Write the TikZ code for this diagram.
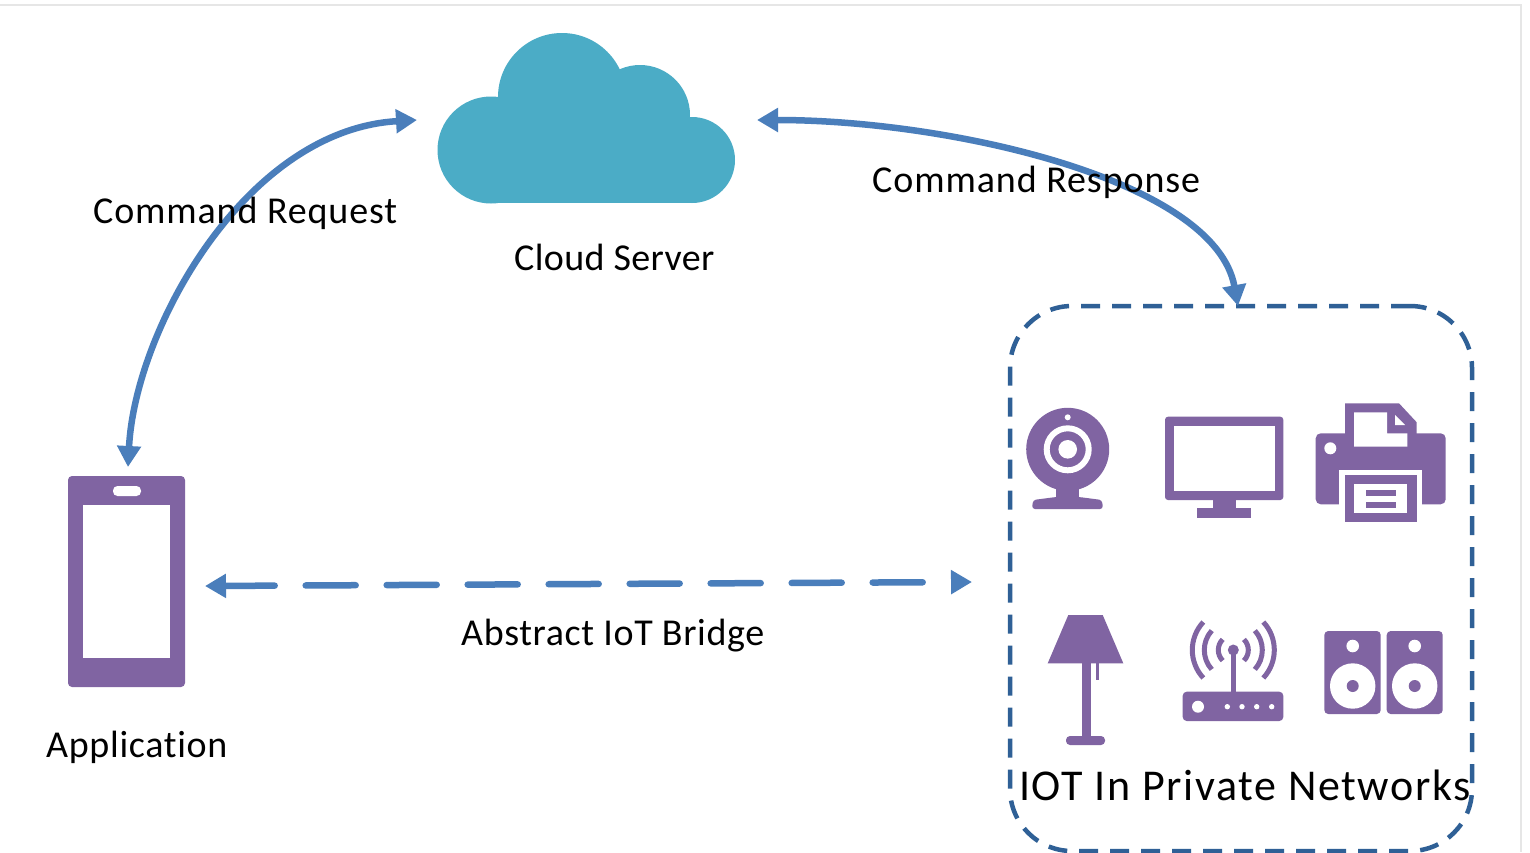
\documentclass[tikz,border=0pt]{standalone}
\usepackage{fontspec}
\setmainfont{Carlito}[Ligatures=NoCommon]
\usetikzlibrary{arrows.meta,calc}
\definecolor{iconpurple}{HTML}{8064A2}
\definecolor{cloudteal}{HTML}{4BACC6}
\definecolor{arrowblue}{HTML}{4A7EBB}
\definecolor{boxblue}{HTML}{2F6096}
\definecolor{edgegray}{HTML}{E6E6E6}
\tikzset{
  px/.style={x=1pt,y=-1pt},
  icon/.style={fill=iconpurple,draw=none},
  hole/.style={fill=white,draw=none},
  flowarrow/.style={draw=arrowblue,line width=6.5pt,{Triangle[length=21pt,width=23pt]}-{Triangle[length=21pt,width=23pt]}},
  dashflow/.style={flowarrow,line cap=round,dash pattern=on 50pt off 31pt},
  lbl/.style={font=\fontsize{38}{41}\selectfont,anchor=base west,inner sep=0pt,text=black},
  wave/.style={draw=iconpurple,line width=5pt,fill=none},
}
\newcommand{\spaced}[2]{\addfontfeature{LetterSpace=#1}#2}
\begin{document}
\begin{tikzpicture}[px]
\useasboundingbox (0,0) rectangle (1530,852);
\fill[white] (0,0) rectangle (1530,852);
\coordinate (frameA) at (0,5);
\coordinate (frameB) at (1521,5);
\coordinate (frameC) at (1521,852);
\draw[edgegray,line width=1.2pt] (frameA) -- (frameB) -- (frameC);

% cloud
\fill[cloudteal] (562,97) circle (64);
\fill[cloudteal] (640,115) circle (50);
\fill[cloudteal] (491,150) circle (53.5);
\fill[cloudteal] (692,160) circle (43);
\fill[cloudteal] (491,120) rectangle (692,203);
\node[minimum width=298pt,minimum height=170pt,inner sep=0pt] (cloud) at (586,118) {};
\coordinate (cloudL) at (417,120);
\coordinate (cloudR) at (757,120);

% phone
\node[icon,rounded corners=4pt,minimum width=117pt,minimum height=211pt,inner sep=0pt] (phone) at (126.5,581.5) {};
\fill[white] (83,505) rectangle (170,658);
\fill[white,rounded corners=4.5pt] (113,486) rectangle (141,496);
\coordinate (phoneTop) at (128,467);
\coordinate (phoneSide) at (205,586);

% dashed IoT box
\node[draw=boxblue,line width=4.5pt,dash pattern=on 19pt off 12pt,rounded corners=62pt,minimum width=462pt,minimum height=545pt,inner sep=0pt] (iot) at (1241,578.5) {};
\coordinate (iotTop) at (1238,306);
\coordinate (iotSide) at (972,582);

% webcam
\fill[icon] (1067.7,449.3) circle (41.5);
\fill[icon] (1056,480) rectangle (1079,500);
\fill[icon,rounded corners=3pt] (1032,509) -- (1033,500) -- (1056,497) -- (1079,497) -- (1102,500) -- (1103,509) -- cycle;
\fill[hole] (1067.7,417.3) circle (3);
\fill[hole,even odd rule] (1067.7,449.3) circle (24) circle (18);
\fill[hole] (1067.7,449.3) circle (9.3);

% monitor
\fill[icon,rounded corners=3pt] (1165,416.7) rectangle (1283.3,500);
\fill[hole] (1174,425.7) rectangle (1275,491);
\fill[icon] (1212.7,500) rectangle (1236,509);
\fill[icon] (1197.3,508.3) rectangle (1250.7,517.7);

% printer
\fill[icon,rounded corners=5pt] (1315.7,433.3) rectangle (1445.7,504.3);
\fill[icon] (1345,440) -- (1345,403.3) -- (1399,403.3) -- (1416.7,422.3) -- (1416.7,440) -- cycle;
\fill[hole] (1354,412.3) -- (1387,412.3) -- (1387,433.3) -- (1407.3,433.3) -- (1407.3,446.7) -- (1354,446.7) -- cycle;
\fill[hole] (1395,415) -- (1405,425) -- (1395,425) -- cycle;
\fill[hole] (1330.3,448.3) circle (6);
\fill[hole] (1339,470) rectangle (1421.7,505);
\fill[icon] (1345,475) rectangle (1416.7,522.3);
\fill[hole] (1354.3,484) rectangle (1407.3,513.3);
\fill[icon] (1365.7,490) rectangle (1395.7,496);
\fill[icon] (1365.7,501.7) rectangle (1395.7,507.7);

% lamp
\fill[icon] (1068.3,615) -- (1102.7,615) -- (1123.3,663.3) -- (1047.7,663.3) -- cycle;
\fill[icon] (1081.7,663) rectangle (1090.7,737);
\fill[icon] (1095.7,663) rectangle (1098.7,680);
\fill[icon,rounded corners=4pt] (1066,745) -- (1066,736) -- (1105,736) -- (1105,745) -- cycle;

% router
\fill[icon,rounded corners=4pt] (1182.7,691.7) rectangle (1283.3,721);
\fill[icon] (1230.7,650) rectangle (1236,692);
\fill[icon] (1233.3,650) circle (5.5);
\fill[hole] (1198,706.7) circle (6);
\foreach \dx in {1227.3,1242,1256.7,1271.7}{\fill[hole] (\dx,706.7) circle (2.7);}
\foreach \r/\a in {15/45,29/42,41/43}{
  \draw[wave] ($(1233.3,650)+(180-\a:\r pt and -\r pt)$) arc[start angle=180-\a,end angle=180+\a,x radius=\r,y radius=\r];
  \draw[wave] ($(1233.3,650)+(\a:\r pt and -\r pt)$) arc[start angle=\a,end angle=-\a,x radius=\r,y radius=\r];
}

% speakers
\foreach \sx/\sw in {1324.3/56.4,1386.7/56}{
  \fill[icon,rounded corners=4pt] (\sx,631) rectangle ++(\sw,83);
}
\foreach \cx in {1352.7,1414.7}{
  \fill[hole] (\cx,646) circle (6.3);
  \fill[hole] (\cx,686) circle (22.7);
  \fill[icon] (\cx,686) circle (6);
}

% connectors
\draw[flowarrow] (phoneTop) .. controls (135,330) and (245,130) .. (cloudL);
\draw[flowarrow] (cloudR) .. controls (950,120) and (1215,180) .. (iotTop);
\draw[dashflow] (phoneSide) -- (iotSide);

% labels
\node[lbl] (lreq) at (93,223) {\spaced{2.3}{Command Request}};
\node[lbl] (lresp) at (872,192) {\spaced{2.4}{Command Response}};
\node[lbl] (lcloud) at (514,270) {\spaced{1}{Cloud Server}};
\node[lbl] (lbridge) at (461,645) {\spaced{1.7}{Abstract IoT Bridge}};
\node[lbl] (lapp) at (46,757) {\spaced{1.8}{Application}};
\node[lbl,font=\fontsize{44}{47}\selectfont] (liot) at (1019,800) {\spaced{3.8}{IOT In Private Networks}};
\end{tikzpicture}
\end{document}
